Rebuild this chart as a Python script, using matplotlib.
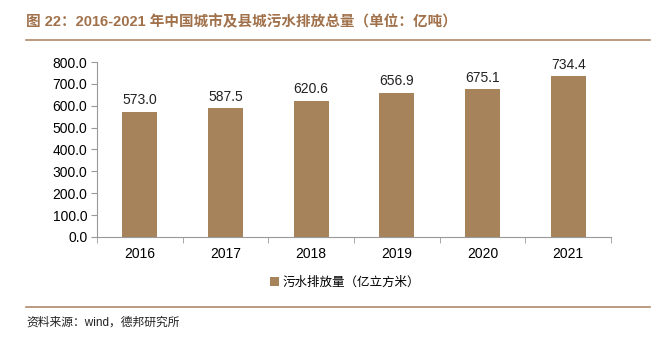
import matplotlib
matplotlib.use("Agg")
import matplotlib.pyplot as plt
from matplotlib.lines import Line2D

years = ["2016", "2017", "2018", "2019", "2020", "2021"]
discharge = [573.0, 587.5, 620.6, 656.9, 675.1, 734.4]
yticks = [0, 100, 200, 300, 400, 500, 600, 700, 800]

title = "图 22：2016-2021 年中国城市及县城污水排放总量（单位：亿吨）"
series_name = "污水排放量（亿立方米）"
source = "资料来源：wind，德邦研究所"

BAR = "#A6835A"
BROWN = "#A0714A"
FONTS = ["Liberation Sans", "Noto Sans CJK SC", "DejaVu Sans"]
plt.rcParams["font.family"] = FONTS

fig = plt.figure(figsize=(6.63, 3.39), dpi=100)
ax = fig.add_axes([0.1463, 0.3009, 0.7753, 0.5162])

x = list(range(len(years)))
bars = ax.bar(x, discharge, width=0.41, color=BAR, label=series_name)
for xi, v in zip(x, discharge):
    ax.text(xi, v + 22, f"{v:.1f}", ha="center", va="bottom", fontsize=10, color="#222222")

ax.set_xlim(-0.5, len(years) - 0.5)
ax.set_ylim(0, 800)
ax.set_yticks(yticks)
ax.set_yticklabels([f"{t:.1f}" for t in yticks], fontsize=10)
ax.set_xticks(x)
ax.set_xticklabels(years, fontsize=10)
ax.tick_params(axis="x", length=0, pad=7)
ax.set_xticks([i + 0.5 for i in range(-1, len(years))], minor=True)
ax.tick_params(axis="x", which="minor", length=4, color="#999999", direction="out")
ax.tick_params(axis="y", length=4, color="#999999", direction="out", pad=3)
for s in ["top", "right"]:
    ax.spines[s].set_visible(False)
for s in ["left", "bottom"]:
    ax.spines[s].set_color("#999999")
    ax.spines[s].set_linewidth(0.8)

fig.legend(handles=[bars], labels=[series_name], loc="center", bbox_to_anchor=(0.52, 0.165),
           frameon=False, fontsize=9, handlelength=0.7, handleheight=0.7, handletextpad=0.3)

fig.text(26 / 663, 1 - 22 / 339, title, fontsize=10.5, fontweight="bold", color=BROWN,
         ha="left", va="center")
fig.add_artist(Line2D([26 / 663, 650 / 663], [1 - 40 / 339] * 2, color="#B08A68", lw=1.2))
fig.add_artist(Line2D([26 / 663, 650 / 663], [1 - 307 / 339] * 2, color="#B08A68", lw=1.2))
fig.text(26 / 663, 1 - 323 / 339, source, fontsize=8.5, color="#222222", ha="left", va="center")

fig.savefig("out.png", dpi=100)
